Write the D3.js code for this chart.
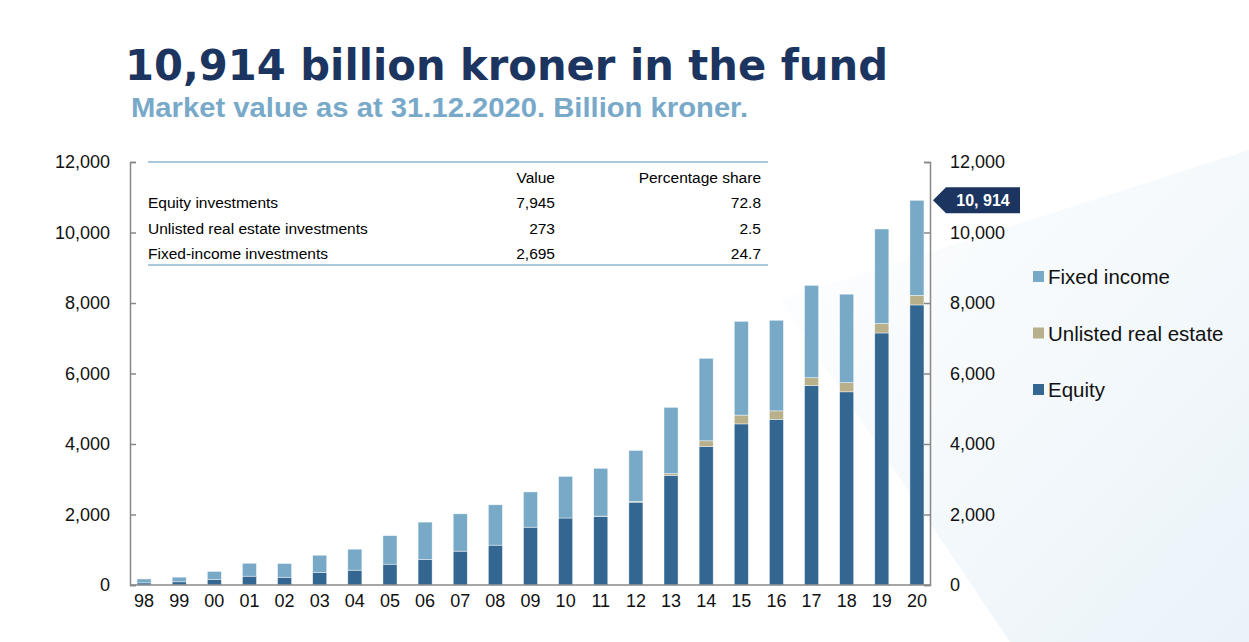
<!DOCTYPE html>
<html><head><meta charset="utf-8">
<script src="https://cdn.jsdelivr.net/npm/d3@7"></script>
<style>body{margin:0;background:#fff}svg{display:block;font-family:"Liberation Sans",Arial,sans-serif}</style>
</head><body><svg id="c" width="1249" height="642"></svg>
<script>
var years = ["98","99","00","01","02","03","04","05","06","07","08","09","10","11","12","13","14","15","16","17","18","19","20"];
var equity = [60,90,150,250,220,360,420,590,720,960,1130,1640,1900,1950,2350,3110,3930,4570,4700,5660,5480,7150,7945];
var realEstate = [0,0,0,0,0,0,0,0,0,0,0,0,0,5,20,50,160,250,240,220,260,270,273];
var fixedIncome = [111,132,236,367,389,485,596,810,1064,1059,1145,1000,1180,1355,1446,1880,2340,2660,2570,2620,2510,2680,2695];
var yTicks = [0,2000,4000,6000,8000,10000,12000];
var tableRows = [["Equity investments","7,945","72.8"],["Unlisted real estate investments","273","2.5"],["Fixed-income investments","2,695","24.7"]];
var legendItems = [["Fixed income","#78aac8"],["Unlisted real estate","#b8b08a"],["Equity","#336791"]];

var svg = d3.select("#c");
// background wedge
var grad = svg.append("defs").append("linearGradient").attr("id","bg").attr("x1","0").attr("y1","0").attr("x2","1").attr("y2","1");
grad.append("stop").attr("offset","0").attr("stop-color","#fff");
grad.append("stop").attr("offset","1").attr("stop-color","#dcebf5");
svg.append("polygon").attr("points","780,300 1249,150 1249,642 1010,642").attr("fill","url(#bg)").attr("opacity",0.6);

svg.append("text").attr("x",125).attr("y",80).attr("fill","#1b3560").attr("font-size",43).attr("font-weight",900)
  .attr("font-family","'DejaVu Sans',sans-serif").attr("textLength",763).attr("lengthAdjust","spacingAndGlyphs").text("10,914 billion kroner in the fund");
svg.append("text").attr("x",131).attr("y",117).attr("fill","#78a9c9").attr("font-size",28).attr("font-weight","bold")
  .attr("textLength",617).attr("lengthAdjust","spacingAndGlyphs").text("Market value as at 31.12.2020. Billion kroner.");

var x = d3.scaleBand().domain(years).range([126.5,934.5]).paddingInner(0.6).paddingOuter(0.3);
var y = d3.scaleLinear().domain([0,12000]).range([585,162]);

var stack = d3.stack().keys(["eq","re","fi"])(years.map(function(d,i){return {yr:d,eq:equity[i],re:realEstate[i],fi:fixedIncome[i]};}));
var cols = {eq:"#336791",re:"#b8b08a",fi:"#78aac8"};
stack.forEach(function(s){
  svg.append("g").selectAll("rect").data(s).join("rect")
    .attr("x",function(d){return x(d.data.yr);}).attr("width",x.bandwidth())
    .attr("y",function(d){return y(d[1]);}).attr("height",function(d){return Math.max(0,y(d[0])-y(d[1]));})
    .attr("fill",cols[s.key]).attr("stroke","#fff").attr("stroke-width",0.6).attr("stroke-opacity",0.7);
});

var left = svg.append("g").attr("transform","translate(130,0)").call(d3.axisLeft(y).tickValues(yTicks).tickSize(-6).tickPadding(20).tickFormat(d3.format(",")));
var right = svg.append("g").attr("transform","translate(930,0)").call(d3.axisRight(y).tickValues(yTicks).tickSize(-6).tickPadding(20).tickFormat(d3.format(",")));
var bottom = svg.append("g").attr("transform","translate(0,585)").call(d3.axisBottom(x).tickSize(0).tickPadding(9));
[left,right,bottom].forEach(function(a){
  a.selectAll("path,line").attr("stroke","#888").attr("stroke-width",1.5);
  a.selectAll("text").attr("font-size",18).attr("fill","#111").attr("font-family","'Liberation Sans',Arial,sans-serif");
});
bottom.select("path").attr("d","M130,0H930");

// table
svg.append("line").attr("x1",148).attr("x2",768).attr("y1",162).attr("y2",162).attr("stroke","#8fb6d2").attr("stroke-width",1.5);
svg.append("line").attr("x1",148).attr("x2",768).attr("y1",265).attr("y2",265).attr("stroke","#8fb6d2").attr("stroke-width",1.5);
svg.append("text").attr("x",555).attr("y",183).attr("text-anchor","end").attr("font-size",15.5).text("Value");
svg.append("text").attr("x",761).attr("y",183).attr("text-anchor","end").attr("font-size",15.5).text("Percentage share");
tableRows.forEach(function(r,i){
  var yy = 208 + i*25.5;
  svg.append("text").attr("x",148).attr("y",yy).attr("font-size",15.5).text(r[0]);
  svg.append("text").attr("x",555).attr("y",yy).attr("text-anchor","end").attr("font-size",15.5).text(r[1]);
  svg.append("text").attr("x",761).attr("y",yy).attr("text-anchor","end").attr("font-size",15.5).text(r[2]);
});

// callout
var tot = equity[22]+realEstate[22]+fixedIncome[22];
var cy = y(tot);
svg.append("path").attr("d","M933,"+cy+" L946,"+(cy-13)+" H1020 V"+(cy+13)+" H946 Z").attr("fill","#1b3560");
svg.append("text").attr("x",983).attr("y",cy+6).attr("text-anchor","middle").attr("fill","#fff").attr("font-size",16).attr("font-weight","bold").text("10, 914");

// legend
legendItems.forEach(function(l,i){
  var ly = 277 + i*56.5;
  svg.append("rect").attr("x",1033).attr("y",ly-6).attr("width",11).attr("height",11).attr("fill",l[1]);
  svg.append("text").attr("x",1048).attr("y",ly+7).attr("font-size",20.5).attr("fill","#111").text(l[0]);
});
</script></body></html>
